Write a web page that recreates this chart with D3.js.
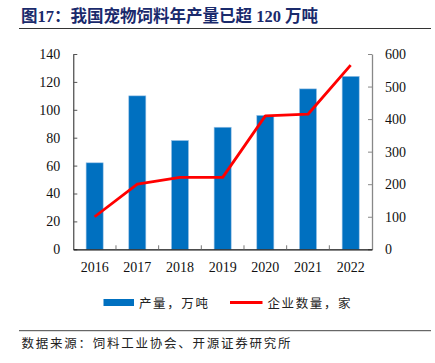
<!DOCTYPE html>
<html><head><meta charset="utf-8">
<script src="https://cdn.jsdelivr.net/npm/d3@7"></script>
<style>
html,body{margin:0;padding:0;background:#fff;}
svg{display:block;}
</style></head>
<body>
<svg id="c" width="435" height="363"></svg>
<script>
const years = ["2016","2017","2018","2019","2020","2021","2022"];
const output = [62, 110, 78, 87.5, 96, 115, 124];        // 产量，万吨
const companies = [100, 200, 221, 221, 410, 415, 566];   // 企业数量，家
const leftTicks = [0,20,40,60,80,100,120,140];
const rightTicks = [0,100,200,300,400,500,600];
const titleText = "图17：我国宠物饲料年产量已超 120 万吨";
const legendLabels = ["产量，万吨","企业数量，家"];
const sourceText = "数据来源：饲料工业协会、开源证券研究所";

const svg = d3.select("#c");
const m = {l:73.3, r:372, t:54, b:249.3};
const serif = "'Liberation Serif','Times New Roman',serif";
const cjk = "'Noto Sans CJK SC','Noto Sans',sans-serif";

// title
svg.append("text").attr("x",21).attr("y",21.5)
  .attr("font-family", serif + "," + cjk).attr("font-weight","bold")
  .attr("font-size",16.5).attr("fill","#1a2a6c")
  .text(titleText);
svg.append("line").attr("x1",19).attr("x2",431).attr("y1",28.5).attr("y2",28.5)
  .attr("stroke","#333").attr("stroke-width",1.2);

const x = d3.scaleBand().domain(years).range([m.l,m.r]).paddingInner(0.6).paddingOuter(0.3);
const yL = d3.scaleLinear().domain([0,140]).range([m.b,m.t]);
const yR = d3.scaleLinear().domain([0,600]).range([m.b,m.t]);

// bars
svg.append("g").selectAll("rect").data(years).join("rect")
  .attr("x",d=>x(d)).attr("width",x.bandwidth())
  .attr("y",(d,i)=>yL(output[i])).attr("height",(d,i)=>m.b-yL(output[i]))
  .attr("fill","#0070c0").attr("stroke","#9cc3e6").attr("stroke-width",0.6);

// line
const line = d3.line().x((d,i)=>x(years[i])+x.bandwidth()/2).y(d=>yR(d));
svg.append("path").datum(companies).attr("d",line)
  .attr("fill","none").attr("stroke","#ff0000").attr("stroke-width",2.8)
  .attr("stroke-linejoin","round");

// left axis
const gL = svg.append("g").attr("transform",`translate(${m.l},0)`)
  .call(d3.axisLeft(yL).tickValues(leftTicks).tickSizeInner(-4).tickSizeOuter(0).tickPadding(13));
gL.select(".domain").attr("stroke","#222");
gL.selectAll(".tick line").attr("stroke","#555");
gL.selectAll("text").attr("font-family",serif).attr("font-size",14).attr("fill","#111");

// right axis
const gR = svg.append("g").attr("transform",`translate(${m.r},0)`)
  .call(d3.axisRight(yR).tickValues(rightTicks).tickSizeInner(-4).tickSizeOuter(0).tickPadding(13));
gR.select(".domain").attr("stroke","#888").attr("stroke-width",1.3);
gR.selectAll(".tick line").attr("stroke","#888");
gR.selectAll("text").attr("font-family",serif).attr("font-size",14).attr("fill","#111");

// bottom axis
const gB = svg.append("g").attr("transform",`translate(0,${m.b})`)
  .call(d3.axisBottom(x).tickSize(0).tickPadding(13));
gB.select(".domain").attr("stroke","#111").attr("stroke-width",1.2);
gB.selectAll("text").attr("font-family",serif).attr("font-size",14).attr("fill","#111");
// category separator ticks (inward)
const step = x.step();
gB.append("g").selectAll("line").data(years.slice(1)).join("line")
  .attr("x1",d=>x(d)-step*x.paddingInner()/2).attr("x2",d=>x(d)-step*x.paddingInner()/2)
  .attr("y1",0).attr("y2",-4).attr("stroke","#777");

// legend
const lg = svg.append("g");
lg.append("rect").attr("x",103.5).attr("y",299).attr("width",30.5).attr("height",7).attr("fill","#0070c0");
lg.append("text").attr("x",139).attr("y",307.5).attr("font-family",cjk).attr("font-size",12.5)
  .attr("letter-spacing",1.6).attr("fill","#222").text(legendLabels[0]);
lg.append("line").attr("x1",230).attr("x2",262.5).attr("y1",302.5).attr("y2",302.5)
  .attr("stroke","#ff0000").attr("stroke-width",2.8);
lg.append("text").attr("x",267.5).attr("y",307.5).attr("font-family",cjk).attr("font-size",12.5)
  .attr("letter-spacing",1.6).attr("fill","#222").text(legendLabels[1]);

// footer
svg.append("line").attr("x1",19).attr("x2",431).attr("y1",330.7).attr("y2",330.7)
  .attr("stroke","#444").attr("stroke-width",1);
svg.append("text").attr("x",21.5).attr("y",348).attr("font-family",cjk).attr("font-size",12.5)
  .attr("letter-spacing",1.75).attr("fill","#222").text(sourceText);
</script>
</body></html>
